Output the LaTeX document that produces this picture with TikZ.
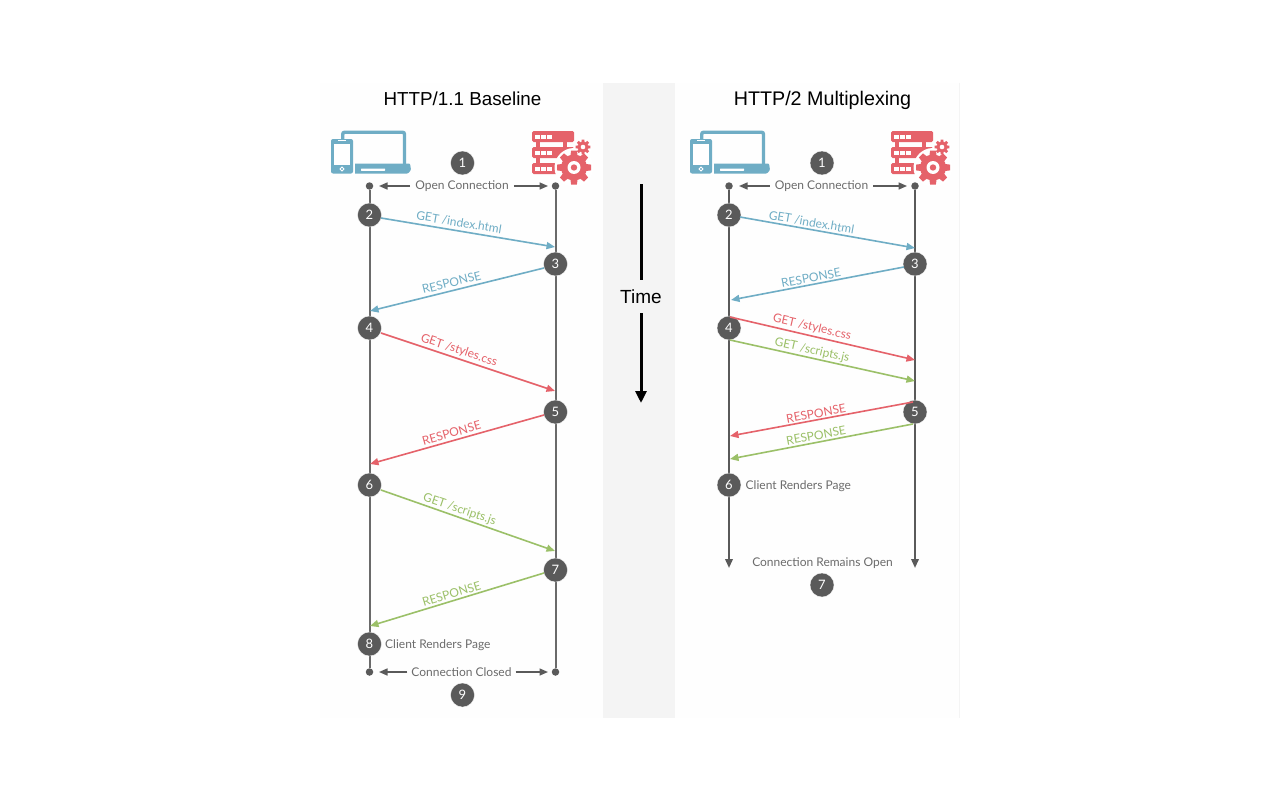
\documentclass[tikz,border=0pt]{standalone}
\usepackage{fontspec}
\setmainfont{Lato}
\newfontfamily\titlefont{Liberation Sans}
\usetikzlibrary{arrows.meta}
\definecolor{cblue}{HTML}{6FADC5}
\definecolor{cred}{HTML}{E5626A}
\definecolor{cgreen}{HTML}{9BC068}
\definecolor{cdark}{HTML}{5A5A5A}
\definecolor{cline}{HTML}{6A6A6A}
\definecolor{cband}{HTML}{F4F4F4}
\definecolor{cpanel}{HTML}{FEFEFE}
\tikzset{
  numnode/.style={circle,fill=cdark,draw=white,line width=.3pt,minimum size=24pt,inner sep=0pt,text=white,font=\fontsize{13}{13}\selectfont},
  captext/.style={text=cdark!90,font=\fontsize{12}{14}\selectfont,inner sep=0pt},
  msgtext/.style={font=\fontsize{12}{14}\selectfont,inner sep=0pt},
  dotnode/.style={circle,fill=cdark,minimum size=7.5pt,inner sep=0pt},
  lifeline/.style={draw=cline,line width=2pt},
  greyarrow/.style={draw=cdark,line width=1.5pt,-{Triangle[length=8.5pt,width=7pt]}},
  flowarrow/.style={line width=1.6pt,-{Triangle[length=8.5pt,width=7pt]}},
  ttla/.style={font=\titlefont\fontsize{18.8}{20}\selectfont,text=black,inner sep=0pt},
  ttlb/.style={font=\titlefont\fontsize{19.7}{20}\selectfont,text=black,inner sep=0pt},
}
\newcommand{\gearshape}[6]{% x y rout rin hole teeth
  \foreach \a in {1,...,#6}{
    \fill[cred,rotate around={360/#6*\a:(#1,#2)}] (#1-#3*.3,#2) -- (#1-#3*.17,#2-#3) -- (#1+#3*.17,#2-#3) -- (#1+#3*.3,#2) -- cycle;
  }
  \fill[cred] (#1,#2) circle[radius=#4];
  \fill[white] (#1,#2) circle[radius=#5];
}
\newcommand{\devices}[1]{%
  \begin{scope}[xshift=#1pt]
    \draw[cblue,line width=3.4pt,rounded corners=2pt] (342.7,166) -- (342.7,132.2) -- (404.5,132.2) -- (404.5,166);
    \fill[cblue,rounded corners=1pt] (354,163.5) -- (410,163.5) -- (411,170) -- (408,173.5) -- (354,173.5) -- cycle;
    \fill[white,rounded corners=.5pt] (361,168.5) rectangle (385,170.8);
    \fill[white] (352,160) rectangle (355,175);
    \fill[cblue,rounded corners=2pt] (331,139) rectangle (353,173.5);
    \fill[white] (334,143.5) rectangle (350,164.5);
    \fill[white] (338,140) rectangle (346,141.2);
    \draw[white,line width=.9pt] (342,169) circle[radius=1.9];
  \end{scope}
}
\newcommand{\servers}[1]{%
  \begin{scope}[xshift=#1pt]
    \fill[cred] (536,140) rectangle (540,165);
    \fill[cred] (563,140) rectangle (567,165);
    \foreach \y in {131,147,163}{
      \fill[cred,rounded corners=1.5pt] (532,\y) rectangle (574,\y+11);
      \foreach \x in {535,541,547}{\fill[white] (\x,\y+3.5) rectangle (\x+4.5,\y+7.5);}
    }
    \fill[white] (574,167.5) circle[radius=19.5];
    \fill[white] (583,147) circle[radius=9];
    \gearshape{574}{167.5}{17}{13}{6.5}{8}
    \fill[cred] (574,167.5) circle[radius=3.2];
    \gearshape{583}{147}{7.4}{5.4}{2.3}{8}
  \end{scope}
}
\begin{document}
\begin{tikzpicture}[x=1pt,y=-1pt]
\useasboundingbox (0,0) rectangle (1280,800);
\fill[white] (0,0) rectangle (1280,800);
\fill[cpanel] (320,83) rectangle (603,718);
\fill[cpanel] (675,83) rectangle (960,718);
\draw[cband,line width=.8pt] (959.5,83) -- (959.5,718);
\fill[cband] (603,83) rectangle (675,718);

% titles
\node[ttla,anchor=base] (t1) at (462.5,105.5) {HTTP/1.1 Baseline};
\node[ttlb,anchor=base] (t2) at (822.5,105.5) {HTTP/2 Multiplexing};
\devices{0}\devices{359}
\servers{0}\servers{359}

% time
\node[font=\titlefont\fontsize{19}{20}\selectfont,inner sep=0pt,anchor=base] (tm) at (641,303) {Time};
\coordinate (tt) at (641,184);
\coordinate (tb) at (641,403);
\draw[line width=3pt] (tt) -- (641,280);
\draw[line width=3pt,-{Triangle[length=12pt,width=11pt]}] (641,313) -- (tb);

% ---------- left ----------
\node[dotnode] (lc1) at (369.5,186) {};
\node[dotnode] (ls1) at (555.5,186) {};
\node[dotnode] (lc2) at (369.5,672) {};
\node[dotnode] (ls2) at (555.5,672) {};
\draw[lifeline] (lc1) -- (lc2);
\draw[lifeline] (ls1) -- (ls2);

\node[numnode] (l1) at (462.5,163) {1};
\node[numnode] (l2) at (369.5,215) {2};
\node[numnode] (l3) at (555.5,264) {3};
\node[numnode] (l4) at (369.5,328) {4};
\node[numnode] (l5) at (555.5,412) {5};
\node[numnode] (l6) at (369.5,485) {6};
\node[numnode] (l7) at (555.5,570) {7};
\node[numnode] (l8) at (369.5,644) {8};
\node[numnode] (l9) at (462.5,695) {9};

\node[captext] (lo) at (462,186.5) {Open Connection};
\coordinate (loa) at (379,186); \coordinate (lob) at (548,186);
\draw[greyarrow] (lo.west) ++(-5,-.5) -- (loa);
\draw[greyarrow] (lo.east) ++(5,-.5) -- (lob);
\node[captext] (lx) at (461.5,672.5) {Connection Closed};
\coordinate (lxa) at (379,672); \coordinate (lxb) at (548,672);
\draw[greyarrow] (lx.west) ++(-4,-.5) -- (lxa);
\draw[greyarrow] (lx.east) ++(4,-.5) -- (lxb);
\node[captext,anchor=west] (lr) at (385,645.5) {Client Renders Page};

\coordinate (a1) at (381,218); \coordinate (b1) at (555,247);
\coordinate (a2) at (544,268); \coordinate (b2) at (370,311);
\coordinate (a3) at (381,333); \coordinate (b3) at (555,391);
\coordinate (a4) at (544,415); \coordinate (b4) at (370,464);
\coordinate (a5) at (381,490); \coordinate (b5) at (555,551);
\coordinate (a6) at (544,573); \coordinate (b6) at (370,626);
\draw[flowarrow,cblue] (a1) -- (b1);
\draw[flowarrow,cblue] (a2) -- (b2);
\draw[flowarrow,cred] (a3) -- (b3);
\draw[flowarrow,cred] (a4) -- (b4);
\draw[flowarrow,cgreen] (a5) -- (b5);
\draw[flowarrow,cgreen] (a6) -- (b6);
\node[msgtext,text=cblue,rotate=-9.5] (m1) at (459,222.5) {GET /index.html};
\node[msgtext,text=cblue,rotate=14] (m2) at (451.5,282.5) {RESPONSE};
\node[msgtext,text=cred,rotate=-18.5] (m3) at (459,350.5) {GET /styles.css};
\node[msgtext,text=cred,rotate=15.7] (m4) at (451.5,433) {RESPONSE};
\node[msgtext,text=cgreen,rotate=-19] (m5) at (459.5,509.5) {GET /scripts.js};
\node[msgtext,text=cgreen,rotate=16.9] (m6) at (451.5,594) {RESPONSE};

% ---------- right ----------
\node[dotnode] (rc1) at (729,186) {};
\node[dotnode] (rs1) at (915,186) {};
\coordinate (rc2) at (729,568);
\coordinate (rs2) at (915,568);
\draw[lifeline,-{Triangle[length=9pt,width=7.5pt]},cdark] (rc1) -- (rc2);
\draw[lifeline,-{Triangle[length=9pt,width=7.5pt]},cdark] (rs1) -- (rs2);

\node[numnode] (r1) at (822,163) {1};
\node[numnode] (r2) at (729,215) {2};
\node[numnode] (r3) at (915,264) {3};
\node[numnode] (r4) at (729,328) {4};
\node[numnode] (r5) at (915,412) {5};
\node[numnode] (r6) at (729,485) {6};
\node[numnode] (r7) at (822,585) {7};

\node[captext] (ro) at (821.5,186.5) {Open Connection};
\coordinate (roa) at (739,186); \coordinate (rob) at (907,186);
\draw[greyarrow] (ro.west) ++(-5,-.5) -- (roa);
\draw[greyarrow] (ro.east) ++(5,-.5) -- (rob);
\node[captext] (rx) at (822.5,563) {Connection Remains Open};
\node[captext,anchor=west] (rr) at (745.5,486) {Client Renders Page};

\coordinate (c1) at (740,217); \coordinate (d1) at (915,248);
\coordinate (c2) at (904,267); \coordinate (d2) at (731,300);
\coordinate (c3) at (730,317); \coordinate (d3) at (915,360);
\coordinate (c4) at (730,340); \coordinate (d4) at (915,381);
\coordinate (c5) at (913,402); \coordinate (d5) at (730,436);
\coordinate (c6) at (913,424); \coordinate (d6) at (730,459);
\draw[flowarrow,cblue] (c1) -- (d1);
\draw[flowarrow,cblue] (c2) -- (d2);
\draw[flowarrow,cred] (c3) -- (d3);
\draw[flowarrow,cgreen] (c4) -- (d4);
\draw[flowarrow,cred] (c5) -- (d5);
\draw[flowarrow,cgreen] (c6) -- (d6);
\node[msgtext,text=cblue,rotate=-10] (n1) at (811.5,222.5) {GET /index.html};
\node[msgtext,text=cblue,rotate=10.8] (n2) at (811,278) {RESPONSE};
\node[msgtext,text=cred,rotate=-13] (n3) at (812,327.5) {GET /styles.css};
\node[msgtext,text=cgreen,rotate=-12.5] (n4) at (812,350.5) {GET /scripts.js};
\node[msgtext,text=cred,rotate=10.5] (n5) at (816,413.5) {RESPONSE};
\node[msgtext,text=cgreen,rotate=10.5] (n6) at (816,435.5) {RESPONSE};
\end{tikzpicture}
\end{document}
